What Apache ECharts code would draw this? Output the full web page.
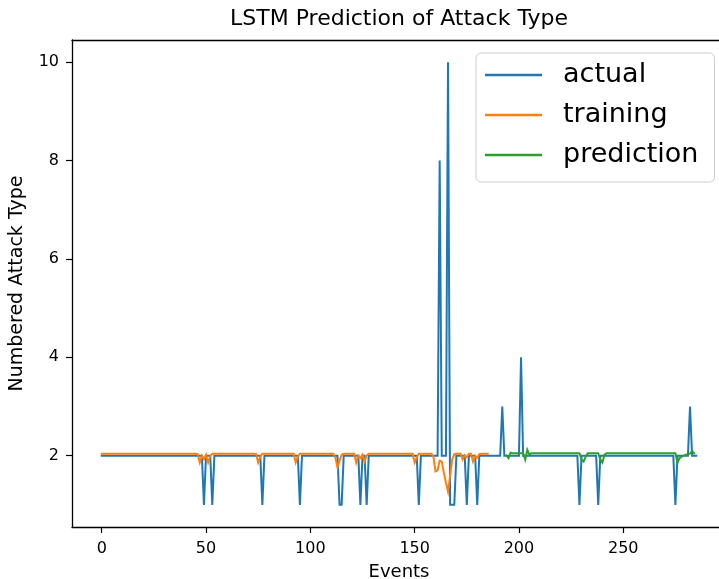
<!DOCTYPE html>
<html>
<head>
<meta charset="utf-8">
<title>LSTM Prediction of Attack Type</title>
<script src="https://cdn.jsdelivr.net/npm/echarts@6/dist/echarts.min.js"></script>
<style>
  html, body { margin: 0; padding: 0; background: #ffffff; }
  #chart { width: 719px; height: 579px; }
</style>
</head>
<body>
<div id="chart"></div>
<script>
// Attack type per event: actual labels (events 0..285)
const actualValues = [
  2, 2, 2, 2, 2, 2, 2, 2, 2, 2, 2, 2, 2, 2, 2, 2, 2, 2, 2, 2,
  2, 2, 2, 2, 2, 2, 2, 2, 2, 2, 2, 2, 2, 2, 2, 2, 2, 2, 2, 2,
  2, 2, 2, 2, 2, 2, 2, 2, 2, 1, 2, 2, 2, 1, 2, 2, 2, 2, 2, 2,
  2, 2, 2, 2, 2, 2, 2, 2, 2, 2, 2, 2, 2, 2, 2, 2, 2, 1, 2, 2,
  2, 2, 2, 2, 2, 2, 2, 2, 2, 2, 2, 2, 2, 2, 2, 1, 2, 2, 2, 2,
  2, 2, 2, 2, 2, 2, 2, 2, 2, 2, 2, 2, 2, 2, 1, 1, 2, 2, 2, 2,
  2, 2, 2, 2, 1, 2, 2, 1, 2, 2, 2, 2, 2, 2, 2, 2, 2, 2, 2, 2,
  2, 2, 2, 2, 2, 2, 2, 2, 2, 2, 2, 2, 1, 2, 2, 2, 2, 2, 2, 2,
  2, 2, 8, 2, 2, 2, 10, 1, 1, 1, 2, 2, 2, 2, 2, 1, 2, 2, 2, 2,
  1, 2, 2, 2, 2, 2, 2, 2, 2, 2, 2, 2, 3, 2, 2, 2, 2, 2, 2, 2,
  2, 4, 2, 2, 2, 2, 2, 2, 2, 2, 2, 2, 2, 2, 2, 2, 2, 2, 2, 2,
  2, 2, 2, 2, 2, 2, 2, 2, 2, 1, 2, 2, 2, 2, 2, 2, 2, 2, 1, 2,
  2, 2, 2, 2, 2, 2, 2, 2, 2, 2, 2, 2, 2, 2, 2, 2, 2, 2, 2, 2,
  2, 2, 2, 2, 2, 2, 2, 2, 2, 2, 2, 2, 2, 2, 2, 1, 2, 2, 2, 2,
  2, 2, 3, 2, 2, 2
];

// Model output on the training window (events 0..185)
const trainingValues = [
  2.04, 2.04, 2.04, 2.04, 2.04, 2.04, 2.04, 2.04, 2.04, 2.04, 2.04, 2.04, 2.04, 2.04, 2.04, 2.04, 2.04, 2.04, 2.04, 2.04,
  2.04, 2.04, 2.04, 2.04, 2.04, 2.04, 2.04, 2.04, 2.04, 2.04, 2.04, 2.04, 2.04, 2.04, 2.04, 2.04, 2.04, 2.04, 2.04, 2.04,
  2.04, 2.04, 2.04, 2.04, 2.04, 2.04, 2.03, 1.86, 2.00, 1.93, 2.02, 1.86, 1.99, 2.04, 2.04, 2.04, 2.04, 2.04, 2.04, 2.04,
  2.04, 2.04, 2.04, 2.04, 2.04, 2.04, 2.04, 2.04, 2.04, 2.04, 2.04, 2.04, 2.04, 2.04, 2.03, 1.86, 1.98, 2.04, 2.04, 2.04,
  2.04, 2.04, 2.04, 2.04, 2.04, 2.04, 2.04, 2.04, 2.04, 2.04, 2.04, 2.04, 2.04, 1.86, 1.98, 2.04, 2.04, 2.04, 2.04, 2.04,
  2.04, 2.04, 2.04, 2.04, 2.04, 2.04, 2.04, 2.04, 2.04, 2.04, 2.04, 2.04, 1.96, 1.76, 1.90, 2.02, 2.04, 2.04, 2.04, 2.04,
  2.04, 2.04, 1.86, 2.00, 1.95, 2.02, 1.88, 2.00, 2.04, 2.04, 2.04, 2.04, 2.04, 2.04, 2.04, 2.04, 2.04, 2.04, 2.04, 2.04,
  2.04, 2.04, 2.04, 2.04, 2.04, 2.04, 2.04, 2.04, 2.04, 2.04, 1.86, 1.96, 2.04, 2.04, 2.04, 2.04, 2.04, 2.04, 2.04, 1.98,
  1.68, 1.70, 1.90, 1.88, 1.65, 1.45, 1.27, 1.60, 1.92, 2.03, 2.04, 2.04, 2.04, 1.92, 2.01, 1.97, 2.04, 2.04, 1.88, 2.00,
  1.96, 2.03, 2.04, 2.04, 2.04, 2.04
];

// Model output on the test window, starting at event 194
const predictionStart = 194;
const predictionValues = [
  2.00, 1.95, 2.06, 2.05, 2.05, 2.05, 2.05, 2.05, 2.05, 1.92, 2.12, 2.02, 2.05, 2.05, 2.05, 2.05, 2.05, 2.05, 2.05, 2.05,
  2.05, 2.05, 2.05, 2.05, 2.05, 2.05, 2.05, 2.05, 2.05, 2.05, 2.05, 2.05, 2.05, 2.05, 2.05, 2.05, 1.92, 1.88, 1.98, 2.05,
  2.05, 2.05, 2.05, 2.05, 2.05, 1.92, 1.86, 2.02, 2.05, 2.05, 2.05, 2.05, 2.05, 2.05, 2.05, 2.05, 2.05, 2.05, 2.05, 2.05,
  2.05, 2.05, 2.05, 2.05, 2.05, 2.05, 2.05, 2.05, 2.05, 2.05, 2.05, 2.05, 2.05, 2.05, 2.05, 2.05, 2.05, 2.05, 2.05, 2.05,
  2.05, 2.05, 1.86, 1.95, 1.98, 2.00, 2.02, 2.03, 2.04, 2.09, 2.05
];

const xTickValues = [0, 50, 100, 150, 200, 250];
const yTickValues = [2, 4, 6, 8, 10];
const seriesNames = ['actual', 'training', 'prediction'];
const seriesColors = ['#1f77b4', '#ff7f0e', '#2ca02c'];

const toPairs = (values, start) => values.map((v, i) => [start + i, v]);

const FONT = 'DejaVu Sans, Liberation Sans, sans-serif';
const X_MIN = -14.25, X_MAX = 299.25;
const chart = echarts.init(document.getElementById('chart'), null, { renderer: 'canvas' });

// frame edge of the plot area
const spine = () => ({ show: true, onZero: false, lineStyle: { color: '#000000', width: 1.3 } });
const ticks = (values) => ({ show: true, inside: false, length: 6, lineStyle: { color: '#000000', width: 1.2 }, customValues: values });
const tickLabels = (values, margin) => ({ fontFamily: FONT, fontSize: 16, color: '#000000', margin: margin, customValues: values });

const lineSeries = (name, data, color) => ({
  name: name,
  type: 'line',
  data: data,
  showSymbol: false,
  color: color,
  lineStyle: { width: 2, color: color, cap: 'square', join: 'miter' }
});

chart.setOption({
  animation: false,
  title: {
    text: 'LSTM Prediction of Attack Type',
    left: 399,
    textAlign: 'center',
    top: 8,
    padding: 0,
    textStyle: { fontFamily: FONT, fontSize: 22, fontWeight: 'normal', color: '#000000' }
  },
  grid: {
    left: 72, top: 40, width: 654, height: 487,
    outerBoundsMode: 'none',
    containLabel: false,
    show: false
  },
  legend: {
    orient: 'vertical',
    left: 476, top: 53,
    padding: [2, 16, 7, 9],
    itemWidth: 57, itemHeight: 2.5, icon: 'rect',
    itemGap: 0,
    borderColor: '#cccccc', borderWidth: 1, borderRadius: 5,
    backgroundColor: 'rgba(255,255,255,0.8)',
    textStyle: { fontFamily: FONT, fontSize: 27, color: '#000000', lineHeight: 40, padding: [0, 0, 0, 16] },
    data: seriesNames
  },
  xAxis: [
    {
      type: 'value',
      position: 'bottom',
      min: X_MIN, max: X_MAX,
      name: 'Events',
      nameLocation: 'middle',
      nameGap: 36,
      nameTextStyle: { fontFamily: FONT, fontSize: 18, color: '#000000' },
      axisLine: spine(),
      axisTick: ticks(xTickValues),
      axisLabel: tickLabels(xTickValues, 14),
      splitLine: { show: false }
    },
    {
      type: 'value',
      position: 'top',
      min: X_MIN, max: X_MAX,
      axisLine: spine(),
      axisTick: { show: false },
      axisLabel: { show: false },
      splitLine: { show: false }
    }
  ],
  yAxis: {
    type: 'value',
    position: 'left',
    min: 0.55, max: 10.45,
    name: 'Numbered Attack Type',
    nameLocation: 'middle',
    nameGap: 45,
    nameTextStyle: { fontFamily: FONT, fontSize: 19, color: '#000000' },
    axisLine: spine(),
    axisTick: ticks(yTickValues),
    axisLabel: tickLabels(yTickValues, 13),
    splitLine: { show: false }
  },
  series: [
    lineSeries(seriesNames[0], toPairs(actualValues, 0), seriesColors[0]),
    lineSeries(seriesNames[1], toPairs(trainingValues, 0), seriesColors[1]),
    lineSeries(seriesNames[2], toPairs(predictionValues, predictionStart), seriesColors[2])
  ]
});
</script>
</body>
</html>
